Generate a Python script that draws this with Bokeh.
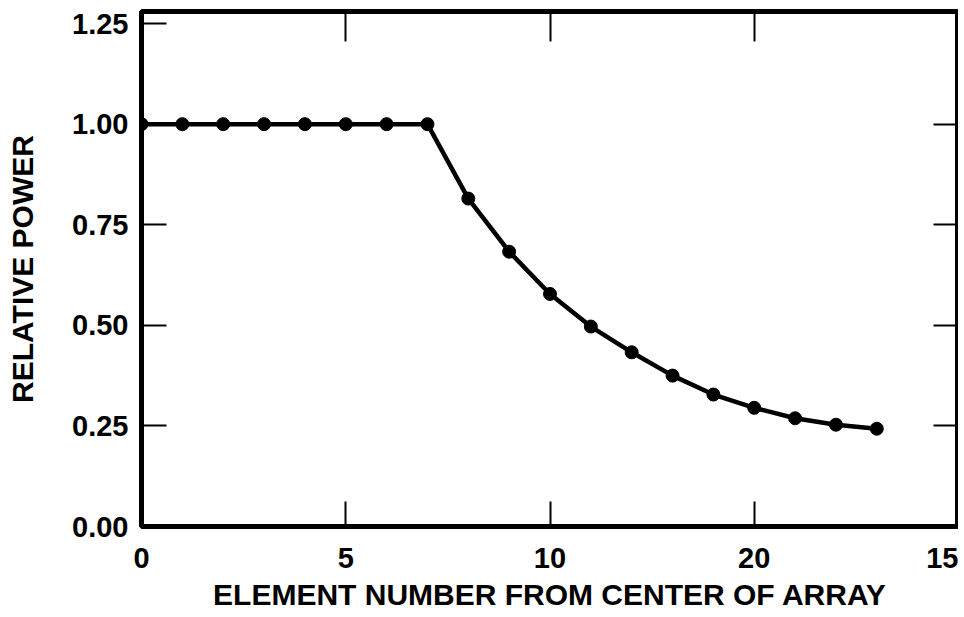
from bokeh.plotting import figure
from bokeh.models import LinearAxis, FixedTicker, Range1d, CustomLabelingPolicy
from bokeh.embed import file_html
from bokeh.resources import INLINE

# ---- data ----
element = [0, 1, 2, 3, 4, 5, 6, 7, 8, 9, 10, 11, 12, 13, 14, 15, 16, 17, 18]
power = [1.00, 1.00, 1.00, 1.00, 1.00, 1.00, 1.00, 1.00,
         0.815, 0.683, 0.578, 0.497, 0.433, 0.375, 0.328, 0.295, 0.269, 0.253, 0.243]

x_ticks = [0, 5, 10, 15, 20]
x_tick_labels = ["0", "5", "10", "20", "15"]
y_ticks = [0.0, 0.25, 0.5, 0.75, 1.0, 1.25]
y_tick_labels = ["0.00", "0.25", "0.50", "0.75", "1.00", "1.25"]

x_title = "ELEMENT NUMBER FROM CENTER OF ARRAY"
y_title = "RELATIVE POWER"

FONT = "Liberation Sans"

p = figure(width=958, height=613,
           x_range=Range1d(0, 20), y_range=Range1d(0, 1.28),
           output_backend="svg", toolbar_location=None,
           min_border_left=141, min_border_right=0,
           min_border_top=11, min_border_bottom=84,
           x_axis_label=x_title, y_axis_label=y_title)

p.grid.visible = False
p.outline_line_color = "black"
p.outline_line_width = 5
p.background_fill_color = "white"
p.border_fill_color = "white"

xa = p.xaxis[0]
ya = p.yaxis[0]

xa.ticker = FixedTicker(ticks=x_ticks)
xa.major_label_overrides = {t: l for t, l in zip(x_ticks, x_tick_labels)}
ya.ticker = FixedTicker(ticks=y_ticks)
ya.major_label_overrides = {t: l for t, l in zip(y_ticks, y_tick_labels)}

for ax in (xa, ya):
    ax.axis_line_color = None
    ax.major_tick_in = 25
    ax.major_tick_out = 0
    ax.major_tick_line_width = 2
    ax.major_tick_line_color = "black"
    ax.minor_tick_line_color = None
    ax.major_label_text_font = FONT
    ax.major_label_text_font_size = "29px"
    ax.major_label_text_font_style = "bold"
    ax.major_label_text_color = "black"
    ax.axis_label_text_font = FONT
    ax.axis_label_text_font_size = "30px"
    ax.axis_label_text_font_style = "bold"
    ax.axis_label_text_color = "black"

xa.major_label_standoff = 21
xa.axis_label_standoff = 7
ya.major_label_standoff = 13
ya.axis_label_standoff = 30

top = LinearAxis(ticker=FixedTicker(ticks=x_ticks[1:-1]))
right = LinearAxis(ticker=FixedTicker(ticks=y_ticks[1:-1]))
for ax, tin in ((top, 30), (right, 25)):
    ax.axis_line_color = None
    ax.major_tick_in = tin
    ax.major_tick_out = 0
    ax.major_tick_line_width = 2
    ax.major_tick_line_color = "black"
    ax.minor_tick_line_color = None
    ax.major_label_policy = CustomLabelingPolicy(code="return []")
    ax.major_label_text_font_size = "1px"
    ax.major_label_text_color = None
    ax.major_label_standoff = 0
p.add_layout(top, "above")
p.add_layout(right, "right")

p.line(element, power, line_color="black", line_width=4.5)
p.scatter(element, power, size=13, marker="circle",
          fill_color="black", line_color="black")

open("out.html", "w").write(file_html(p, INLINE))
